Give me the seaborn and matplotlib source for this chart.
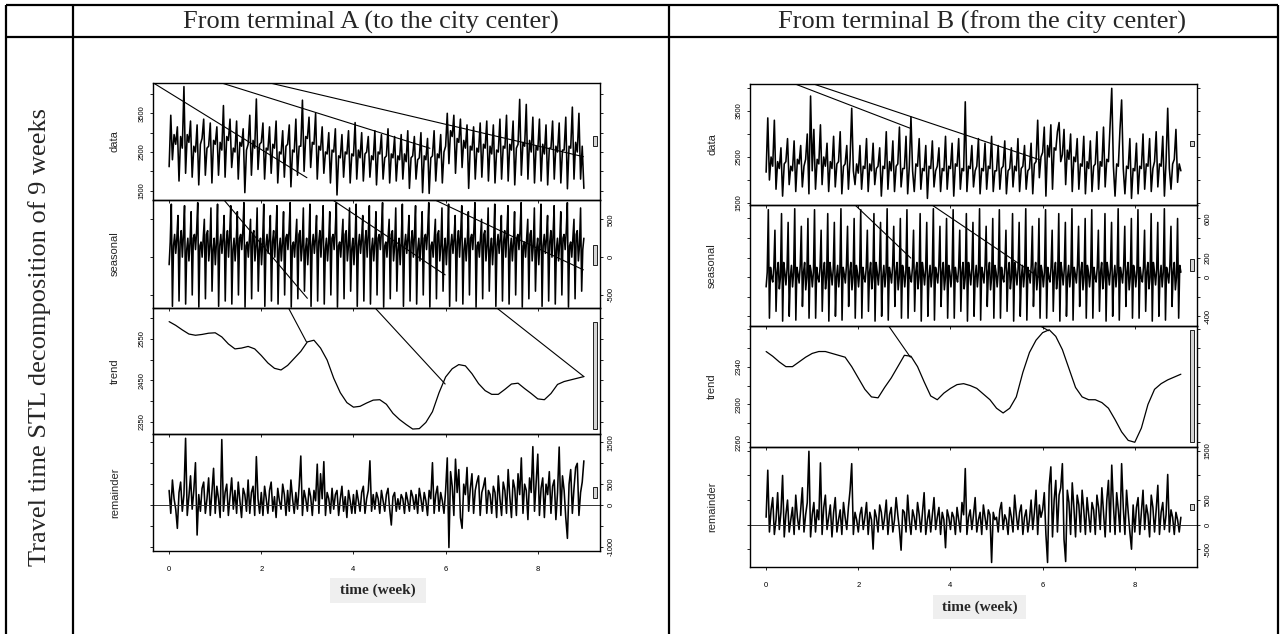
import numpy as np
import seaborn as sns
import matplotlib.pyplot as plt
from matplotlib.patches import Rectangle

# STL decomposition of travel times, two terminals, 9 weeks
# values: data/remainder 4 per day, seasonal weekly
# profile 6 per day, trend 1 per day

# ---------------- terminal A ----------------
data_A = [
    2120, 3450, 2300, 2950, 2700, 3150, 1750, 2900, 2600, 4190, 1950, 2950, 2750, 3300, 1850, 2650, 2500, 3200, 1650, 2700, 2850, 3350, 1900, 2600, 2650, 3250, 1700, 2800,
    2700, 3150, 1900, 2750, 2550, 3700, 1850, 2900, 2800, 3350, 2100, 2600, 2500, 3300, 1800, 2750, 2650, 3100, 1450, 2550, 2700, 3450, 1900, 2800, 2600, 3870, 2050, 2700,
    2750, 3250, 1800, 2600, 2550, 3150, 1950, 2700, 2600, 3300, 1700, 2500, 2450, 3050, 1850, 2650, 2700, 3200, 1600, 2550, 2500, 3350, 1900, 2650, 2650, 3840, 2000, 2900,
    2850, 3400, 2100, 2750, 2700, 3500, 1800, 2650, 2550, 3150, 1950, 2500, 2450, 3000, 1700, 2550, 2500, 3100, 1390, 2400, 2350, 2950, 1850, 2500, 2450, 3050, 1700, 2450,
    2400, 3260, 1800, 2550, 2350, 3000, 1750, 2450, 2500, 2900, 1850, 2400, 2300, 3050, 1650, 2500, 2450, 2950, 1800, 2350, 2400, 3100, 1700, 2450, 2350, 2900, 1750, 2400,
    2300, 2950, 1800, 2450, 2250, 3050, 1560, 2350, 2400, 2900, 1800, 2300, 2350, 3000, 1450, 2400, 2300, 2850, 1430, 2350, 2400, 3050, 1750, 2450, 2350, 2950, 1700, 2500,
    2650, 3500, 2200, 3050, 2900, 3450, 1950, 2850, 2750, 3350, 2100, 2800, 2600, 3200, 1560, 2650, 2550, 3150, 1800, 2600, 2500, 3250, 1850, 2700, 2600, 3300, 1750, 2650,
    2450, 3200, 1700, 2550, 2500, 3350, 1800, 2650, 2600, 3450, 1750, 2700, 2550, 3300, 1650, 2600, 2700, 3860, 1900, 2750, 2650, 3730, 1800, 2800, 2500, 3400, 1700, 2650,
    2550, 3350, 1750, 2700, 2450, 3200, 1650, 2600, 2600, 3300, 1800, 2650, 2500, 3250, 1700, 2550, 2550, 3400, 1550, 2650, 2600, 3660, 1800, 2750, 2500, 3500, 1800, 2650,
    1560,
]

seasonal_week_A = [
    -100, 200, 700, -650, 150, 300,
    50, 250, 550, -580, 200, 350,
    0, 300, 680, -620, 100, 250,
    -50, 200, 600, -500, 250, 300,
    100, 350, 720, -660, 150, 200,
    0, 250, 500, -550, 300, 350,
    -50, 150, 650, -450, 100, 250,
]

trend_A = [
    2592, 2583, 2572, 2562, 2559, 2561, 2564, 2565, 2555, 2538, 2526, 2528, 2532, 2526,
    2510, 2492, 2479, 2475, 2486, 2503, 2520, 2543, 2547, 2528, 2499, 2455, 2420, 2396,
    2385, 2387, 2395, 2402, 2403, 2392, 2370, 2355, 2343, 2332, 2333, 2348, 2374, 2420,
    2458, 2478, 2488, 2485, 2466, 2442, 2425, 2416, 2416, 2428, 2441, 2443, 2430, 2418,
    2405, 2403, 2418, 2440, 2447, 2451, 2455, 2459,
]

remainder_A = [
    350, -200, 600, 150, -100, -560, 300, 550, -150, 250, 1600, -250, 200, 700, -100, 350, 1015, -720, 250, -150, 400, 550, -200, 150, 650, -250, 300, 880,
    -200, 450, 150, -300, 1570, -150, 300, 500, -250, 200, 650, -100, 350, -200, 550, 100, -300, 400, 250, -150, 600, -200, 300, 450, -250, 1160, 150, -200,
    300, -250, 450, 150, -200, 350, 550, -150, 200, -300, 400, 100, -100, 500, 250, -250, 350, -150, 600, 150, -200, 300, -100, 450, 1175, -250, 350, 150,
    -150, 400, 200, -250, 350, 100, 980, -200, 750, 150, 1040, -250, 300, 150, -200, 400, -100, 250, 350, -250, 150, 450, -150, 200, -300, 350, 100, -200,
    250, -200, 350, 100, -150, 300, 450, -200, 150, 350, 1060, -150, 250, -100, 300, 150, -200, 350, 100, -150, 250, 400, -100, -480, 200, 300, -150, 150,
    -100, 250, 150, -200, 300, 100, -150, 350, 200, -100, 250, -200, 400, 150, -150, 300, 100, -250, 350, 150, 1015, -200, 250, 450, -150, 300, 100, -200,
    350, 1130, -1020, 800, 450, -250, 1100, 300, 850, -300, -560, 500, 250, 900, -150, 400, 750, -200, 350, 550, 700, -250, 300, 450, 650, -200, 350, 250,
    -200, 450, 300, -300, 700, 150, -250, 550, 350, -200, 850, 200, -300, 600, 400, -250, 750, 250, 1130, -200, 500, 350, -350, 650, 300, 1400, -150, 550,
    1220, -250, 400, 650, -300, 500, 250, 800, -200, 450, 600, -350, 300, 1390, -250, 700, 350, -300, -800, 500, 850, -200, 400, 900, 1000, -250, 300, 550,
    1060,
]

# straight "wrap-around" segments visible in the original: (t0, v0, t1, v1)
stray_data_A = [(-0.34, 4283, 2.99, 1836), (1.14, 4283, 5.66, 2596), (2.19, 4283, 8.99, 2379)]
stray_seasonal_A = [(1.19, 755, 3.0, -544), (3.55, 755, 5.99, -234), (5.77, 755, 8.99, -168)]
stray_trend_A = [(2.59, 2625, 2.98, 2543), (4.47, 2625, 5.99, 2441), (7.11, 2625, 9.0, 2459)]

# ---------------- terminal B ----------------
data_B = [
    2170, 3350, 2000, 2500, 2300, 3300, 1800, 2400, 2250, 2700, 1650, 2350, 2400, 2900, 1900, 2300, 2200, 2850, 1750, 2450, 2350, 2750, 1850, 2300, 2450, 3000, 1700, 3826,
    2200, 3100, 1800, 2450, 2350, 3200, 1900, 2500, 2300, 2800, 1750, 2400, 2250, 2950, 1850, 2350, 2400, 3050, 1700, 2300, 2350, 2750, 1800, 2450, 3560, 2200, 1900, 2350,
    2150, 2750, 1800, 2300, 2250, 2900, 1750, 2350, 2200, 2800, 1900, 2250, 2300, 2700, 1650, 2300, 2250, 3050, 1800, 2400, 2200, 2850, 1750, 2300, 2350, 3150, 1850, 2250,
    2250, 2950, 1700, 2300, 3370, 2200, 1750, 2350, 2300, 2900, 1800, 2250, 2200, 2750, 1600, 2300, 2250, 2850, 1850, 2200, 2300, 2700, 1750, 2250, 2200, 2950, 1800, 2300,
    2250, 2800, 1650, 2350, 2300, 2900, 1800, 2250, 2200, 3700, 1750, 2300, 2250, 2750, 1850, 2200, 2300, 2900, 1700, 2250, 2200, 2800, 1800, 2300, 2250, 2950, 1750, 2200,
    2200, 2750, 1800, 2250, 2300, 2850, 1700, 2200, 2250, 2700, 1850, 2300, 2200, 2900, 1750, 2250, 2300, 2750, 1800, 2200, 2250, 2800, 1700, 2350, 2400, 3300, 2050, 2500,
    2600, 3150, 1650, 2750, 2500, 3200, 1800, 2700, 2650, 3050, 3250, 2400, 2550, 3100, 1900, 2650, 2450, 3000, 1750, 2500, 2400, 2900, 1800, 2350, 2300, 2950, 1700, 2400,
    2250, 2850, 1750, 2300, 2350, 3050, 1800, 2400, 2300, 3150, 1850, 2450, 2400, 3200, 3993, 2300, 1650, 2350, 2300, 3100, 3740, 2250, 1700, 2300, 2250, 2900, 1600, 2250,
    2200, 2800, 1700, 2300, 2250, 3000, 1800, 2350, 2300, 2900, 1750, 2250, 2400, 3050, 1850, 2350, 2300, 2950, 1650, 2400, 3560, 2250, 1800, 2350, 2450, 3100, 1950, 2350,
    2200,
]

seasonal_week_B = [
    -100, 50, 690, -420, 100, 0,
    -50, 100, 480, -350, 50, 150,
    -120, 0, 650, -450, 150, 50,
    -80, 80, 560, -400, 0, 120,
    -100, 50, 700, -440, 100, 30,
    -60, 120, 520, -300, 50, 150,
    -130, 0, 600, -420, 120, 50,
]

trend_B = [
    2356, 2351, 2345, 2340, 2340, 2345, 2350, 2354, 2356, 2356, 2354, 2352, 2350, 2340,
    2328, 2316, 2308, 2307, 2318, 2328, 2340, 2352, 2351, 2340, 2324, 2309, 2305, 2312,
    2317, 2321, 2322, 2320, 2317, 2311, 2305, 2296, 2291, 2296, 2308, 2334, 2355, 2368,
    2376, 2379, 2372, 2358, 2338, 2318, 2308, 2305, 2305, 2302, 2296, 2284, 2271, 2262,
    2260, 2275, 2300, 2316, 2322, 2326, 2329, 2332,
]

remainder_B = [
    150, 1107, -150, 300, 550, -200, 100, 650, -100, 250, 1000, -250, 200, 500, -150, 100, 350, -200, 600, 150, -100, 300, 750, -150, 200, 450, 1492, -250,
    200, 450, -150, 300, 100, 1256, -200, 350, 600, -100, 150, 400, -250, 250, 550, -150, 100, 300, -200, 450, 150, -100, 350, 700, 1240, -200, 250, 100,
    -150, 200, 350, -100, 150, 450, -200, 250, 100, -498, 300, 150, -150, 400, 250, -100, 150, 500, -200, 200, 350, -150, 100, 550, 200, -100, -520, 300,
    250, -150, 600, 100, -200, 300, 150, -100, 450, 200, -150, 250, 650, -200, 100, 300, -150, 200, 550, -100, 150, 350, -200, 250, 100, -470, 300, 150,
    -100, 250, 150, -200, 350, 100, -150, 450, 200, 1140, -200, 150, 300, -100, 200, 550, -150, 100, 250, -200, 400, 150, -100, 300, 200, -770, 250, 100,
    150, -150, 300, 450, -100, 200, 100, -200, 350, 150, -150, 600, 200, -100, 250, 400, -200, 150, 300, -150, 100, 500, -100, 250, 700, -200, 400, 150,
    300, 650, -200, -770, 800, 1175, -250, 500, 900, -150, 600, 750, 1240, -300, -750, 700, 450, -200, 850, 350, -250, 600, 400, -150, 700, 300, -200, 550,
    200, -150, 450, 300, -200, 600, 350, -100, 750, 250, -250, 500, 900, -150, 1210, 400, -200, 650, 300, -150, 1240, 350, -200, 700, 250, -150, -500, 400,
    -150, 350, 550, -200, 250, 700, -100, 400, 200, -250, 600, 350, -150, 300, 800, -200, 250, 450, -100, 200, 1020, -150, 300, 150, -200, 250, 100, -150,
    150,
]

stray_data_B = [(0.63, 4087, 3.13, 3124), (1.03, 4087, 5.95, 2435)]
stray_seasonal_B = [(1.93, 738, 3.14, 195), (3.6, 738, 5.95, -10)]
stray_trend_B = [(2.66, 2383, 3.13, 2350), (5.95, 2383, 6.13, 2378)]

# axis ranges and ticks (data, seasonal, trend, remainder)
ylims_A = [(1260, 4283), (-672, 755), (2320, 2625), (-1103, 1703)]
ylims_B = [(1457, 4087), (-500, 738), (2255, 2383), (-862, 1579)]
ticks_A = [[1500, 2000, 2500, 3000, 3500, 4000], [-500, 0, 500],
           [2350, 2400, 2450, 2500, 2550, 2600], [-1000, -500, 0, 500, 1000, 1500]]
tick_labels_A = [['1500', '', '2500', '', '3500', ''], ['-500', '0', '500'],
                 ['2350', '', '2450', '', '2550', ''], ['-1000', '', '0', '500', '', '1500']]
ticks_B = [[1500, 2000, 2500, 3000, 3500, 4000], [-400, -200, 0, 200, 400, 600],
           [2260, 2280, 2300, 2320, 2340, 2360, 2380], [-500, 0, 500, 1000, 1500]]
tick_labels_B = [['1500', '', '2500', '', '3500', ''], ['-400', '', '0', '200', '', '600'],
                 ['2260', '', '2300', '', '2340', '', ''], ['-500', '0', '500', '', '1500']]
panel_names = ['data', 'seasonal', 'trend', 'remainder']
week_ticks = [0, 2, 4, 6, 8]

header_A = 'From terminal A (to the city center)'
header_B = 'From terminal B (from the city center)'
row_label = 'Travel time STL decomposition of 9 weeks'
x_label = 'time (week)'

# ---------------------------------------------------------------
sns.set_theme(style='ticks')
plt.rcParams['font.family'] = ['Liberation Sans', 'DejaVu Sans']
SERIF = ['Liberation Serif', 'DejaVu Serif']

W, H = 1287, 634
fig = plt.figure(figsize=(W / 100, H / 100), dpi=100)
fig.patch.set_facecolor('white')

# background axes in pixel units for the table frame and texts
bg = fig.add_axes([0, 0, 1, 1])
bg.set_xlim(0, W)
bg.set_ylim(H, 0)
bg.axis('off')
for x in [6, 73, 669, 1278]:
    bg.plot([x, x], [5, H + 5], color='black', lw=1.6, solid_capstyle='butt')
for y in [5, 37]:
    bg.plot([6, 1278], [y, y], color='black', lw=1.6, solid_capstyle='butt')
bg.text(371, 22, header_A, ha='center', va='center', fontsize=19, family=SERIF)
bg.text(982, 22, header_B, ha='center', va='center', fontsize=19, family=SERIF)
bg.text(40, 337, row_label, ha='center', va='center', rotation=90, fontsize=19, family=SERIF)


def draw_stl(x0, x1, edges, series, strays, ylims, ticks, tick_labels, box):
    comps = [np.asarray(s, dtype=float) for s in series]
    mx = min(np.ptp(c) for c in comps)  # range bar length, as in R's plot.stl
    for k in range(4):
        ax = fig.add_axes([x0 / W, 1 - edges[k + 1] / H, (x1 - x0) / W,
                           (edges[k + 1] - edges[k]) / H])
        ax.patch.set_alpha(0)
        y = comps[k]
        t = np.linspace(0, 9, len(y))
        lw = 0.9 if k == 2 else 1.15
        sns.lineplot(x=t, y=y, ax=ax, color='black', lw=lw, estimator=None)
        for (ta, va, tb, vb) in strays[k]:
            ax.plot([ta, tb], [va, vb], color='black', lw=0.8)
        if k == 3:
            ax.axhline(0, color='#333333', lw=0.7)
        mid = (y.max() + y.min()) / 2
        ax.add_patch(Rectangle((9.19, mid - mx / 2), 0.1, mx, facecolor='#d3d3d3',
                               edgecolor='black', lw=0.6, zorder=3))
        ax.set_xlim(-0.35, 9.35)
        ax.set_ylim(*ylims[k])
        ax.set_xlabel('')
        ax.set_ylabel('')
        for sp in ax.spines.values():
            sp.set_visible(True)
            sp.set_linewidth(1.0)
            sp.set_color('black')
        ax.set_yticks(ticks[k])
        ax.set_yticklabels(tick_labels[k])
        ax.tick_params(axis='y', direction='out', length=2.5, width=0.6, left=True,
                       right=True, labelleft=(k % 2 == 0), labelright=(k % 2 == 1),
                       labelsize=5.5, pad=3, labelrotation=90, colors='black')
        for lab in ax.get_yticklabels():
            lab.set_va('center')
        ax.set_xticks(week_ticks)
        ax.tick_params(axis='x', direction='out', length=2.5, width=0.6,
                       labelbottom=(k == 3), labelsize=5.5, pad=8, colors='black')
        ax.text(-38 / (x1 - x0), 0.5, panel_names[k], transform=ax.transAxes,
                rotation=90, ha='center', va='center', fontsize=8)
    # label of the time axis on a light grey patch
    bx0, by0, bx1, by1 = box
    bg.add_patch(Rectangle((bx0, by0), bx1 - bx0, by1 - by0, facecolor='#efefef',
                           edgecolor='none'))
    bg.text((bx0 + bx1) / 2, (by0 + by1) / 2, x_label, ha='center', va='center',
            fontsize=11, fontweight='bold', family=SERIF)


seasonal_A = np.tile(seasonal_week_A, 9)
seasonal_B = np.tile(seasonal_week_B, 9)

draw_stl(153, 600, [83, 200, 308, 434, 551],
         [data_A, seasonal_A, trend_A, remainder_A],
         [stray_data_A, stray_seasonal_A, stray_trend_A, []],
         ylims_A, ticks_A, tick_labels_A, (330, 578, 426, 603))
draw_stl(750, 1197, [84, 205, 326, 447, 567],
         [data_B, seasonal_B, trend_B, remainder_B],
         [stray_data_B, stray_seasonal_B, stray_trend_B, []],
         ylims_B, ticks_B, tick_labels_B, (933, 595, 1026, 619))

fig.savefig('out.png', dpi=100, facecolor='white')
